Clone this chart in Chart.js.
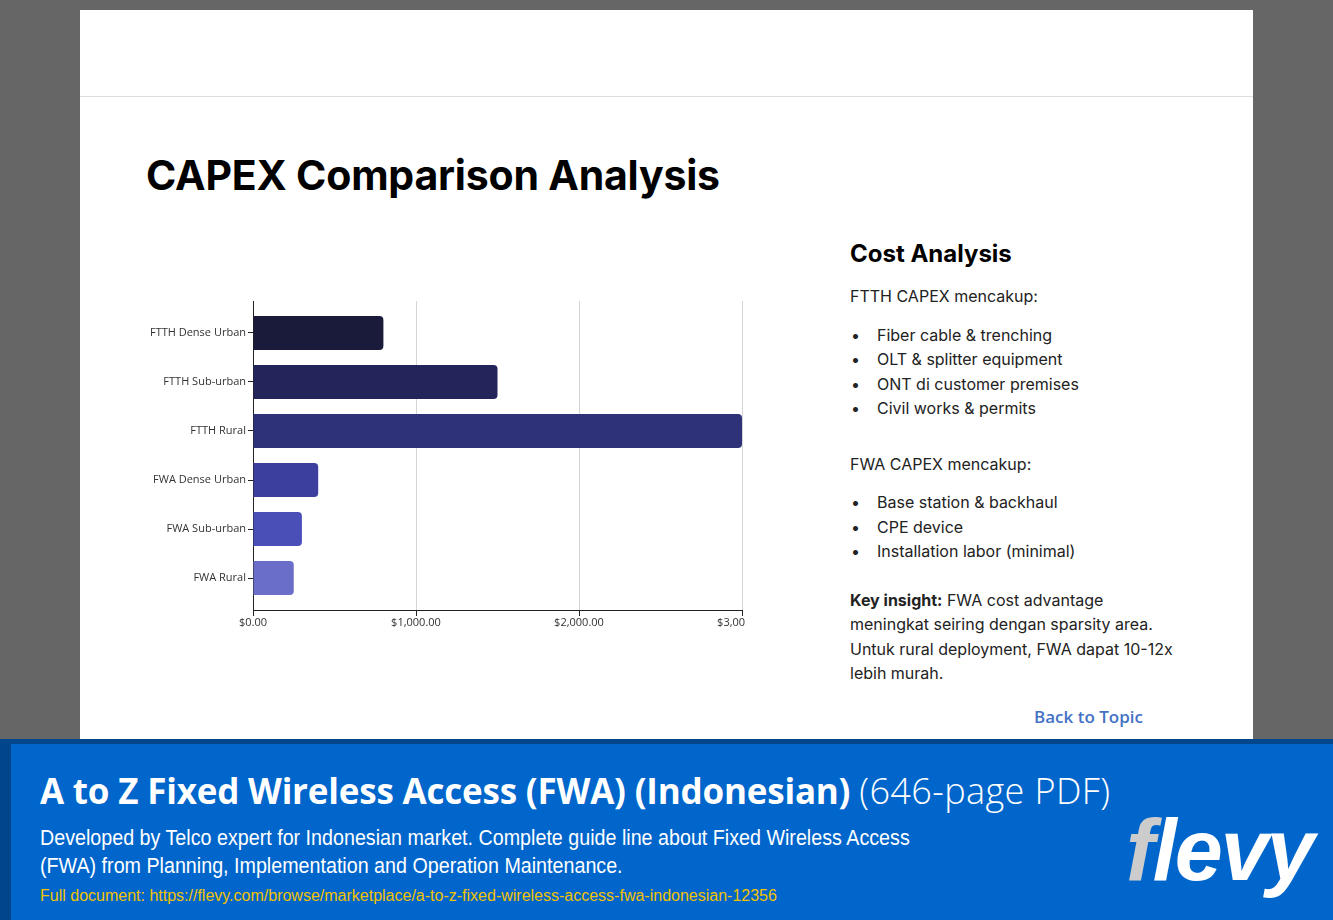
<!DOCTYPE html>
<html>
<head>
<meta charset="utf-8">
<script src="https://cdn.jsdelivr.net/npm/chart.js@4"></script>
<style>
  html, body { margin: 0; padding: 0; }
  body { width: 1333px; height: 920px; background: #666666; position: relative; overflow: hidden; font-family: Inter, sans-serif; }
  .card { position: absolute; left: 80px; top: 10px; width: 1173px; height: 740px; background: #fff; }
  .card .rule { position: absolute; left: 0; right: 0; top: 86px; border-top: 1px solid #dedede; }
  h1 { position: absolute; left: 146px; top: 150px; margin: 0; font: 700 41px Inter, sans-serif; color: #000; letter-spacing: -0.2px; }
  .chart-wrap { position: absolute; left: 140px; top: 291px; width: 605px; height: 340px; }
  .side { position: absolute; left: 850px; top: 238px; width: 335px; color: #222; font-size: 16px; line-height: 24.5px; }
  .side h2 { margin: 0 0 14px; font: 700 24px Inter, sans-serif; color: #000; line-height: 32px; }
  .side p { margin: 0; }
  .side ul { margin: 14px 0 31px; padding: 0; list-style: none; }
  .side ul.last { margin-bottom: 24px; }
  .side ul li { position: relative; padding-left: 27px; }
  .side ul li::before { content: "\2022"; position: absolute; left: 1px; top: 0; }
  .side .back { position: absolute; left: 184px; top: 467px; color: #4472c4; font: 600 17px "Open Sans", sans-serif; white-space: nowrap; }
  .foot { position: absolute; left: 0; top: 739px; width: 1333px; height: 181px; background: #00468c; }
  .foot .inner { position: absolute; left: 11px; top: 5px; right: 0; bottom: 0; background: #0066cc; overflow: hidden; }
  .foot .t { position: absolute; left: 29px; top: 22px; color: #fff; font: 700 35px "Open Sans", sans-serif; white-space: nowrap; letter-spacing: -0.2px; }
  .foot .t span { font-weight: 300; font-size: 36px; letter-spacing: 0.4px; }
  .foot .d { position: absolute; left: 29px; top: 80px; color: #fff; font: 22px "Liberation Sans", Arial, sans-serif; line-height: 28px; white-space: nowrap; transform: scaleX(0.895); transform-origin: left top; }
  .foot .u { position: absolute; left: 29px; top: 143px; color: #f2c200; font: 16px "Liberation Sans", Arial, sans-serif; white-space: nowrap; }
  .foot .logo { position: absolute; left: 1115px; top: 55px; font: italic 700 88px "Liberation Sans", Arial, sans-serif; color: #fff; letter-spacing: -2px; transform: scaleX(0.98); transform-origin: left top; white-space: nowrap; }
  .foot .logo span { color: #cccccc; }
</style>
</head>
<body>
<div class="card">
  <div class="rule"></div>
</div>
<h1>CAPEX Comparison Analysis</h1>
<div class="chart-wrap"><canvas id="capexChart"></canvas></div>
<div class="side">
  <h2>Cost Analysis</h2>
  <p>FTTH CAPEX mencakup:</p>
  <ul>
    <li>Fiber cable &amp; trenching</li>
    <li>OLT &amp; splitter equipment</li>
    <li>ONT di customer premises</li>
    <li>Civil works &amp; permits</li>
  </ul>
  <p>FWA CAPEX mencakup:</p>
  <ul class="last">
    <li>Base station &amp; backhaul</li>
    <li>CPE device</li>
    <li>Installation labor (minimal)</li>
  </ul>
  <p><strong>Key insight:</strong> FWA cost advantage meningkat seiring dengan sparsity area. Untuk rural deployment, FWA dapat 10-12x lebih murah.</p>
  <div class="back">Back to Topic</div>
</div>
<div class="foot">
  <div class="inner">
    <div class="t">A to Z Fixed Wireless Access (FWA) (Indonesian) <span>(646-page PDF)</span></div>
    <div class="d">Developed by Telco expert for Indonesian market. Complete guide line about Fixed Wireless Access<br>(FWA) from Planning, Implementation and Operation Maintenance.</div>
    <div class="u">Full document: https://flevy.com/browse/marketplace/a-to-z-fixed-wireless-access-fwa-indonesian-12356</div>
    <div class="logo"><span>f</span>levy</div>
  </div>
</div>
<script>
const categories = ['FTTH Dense Urban', 'FTTH Sub-urban', 'FTTH Rural', 'FWA Dense Urban', 'FWA Sub-urban', 'FWA Rural'];
const capexValues = [800, 1500, 3000, 400, 300, 250];
const barColors = ['#1a1a3a', '#22245a', '#2e3379', '#3c3f9e', '#4a4fb8', '#6a6ec8'];
const xTicks = [0, 1000, 2000, 3000];

const money = (v) => '$' + v.toLocaleString('en-US', { minimumFractionDigits: 2, maximumFractionDigits: 2 });

new Chart(document.getElementById('capexChart'), {
  type: 'bar',
  data: {
    datasets: [{
      data: capexValues.map((v, i) => ({ x: v, y: i })),
      backgroundColor: barColors,
      borderRadius: 4,
      borderSkipped: 'start',
      barPercentage: 0.9,
      categoryPercentage: 0.77
    }]
  },
  options: {
    indexAxis: 'y',
    responsive: true,
    maintainAspectRatio: false,
    animation: false,
    layout: { padding: { top: 10, right: 3, left: 0, bottom: 0 } },
    plugins: { legend: { display: false }, tooltip: { enabled: false } },
    scales: {
      x: {
        type: 'linear',
        min: 0,
        max: 3000,
        afterBuildTicks: (s) => { s.ticks = xTicks.map((v) => ({ value: v })); },
        afterFit: (s) => { s.paddingRight = 0; s.paddingLeft = 0; s.height = 21; },
        ticks: { callback: (v) => money(v), color: '#333', font: { family: 'Open Sans', size: 11 }, padding: 0, maxRotation: 0 },
        grid: { color: '#d4d4d4', tickColor: '#222', tickLength: 6 },
        border: { color: '#222', width: 1 }
      },
      y: {
        type: 'linear',
        reverse: true,
        offset: false,
        bounds: 'data',
        min: -0.65,
        max: 5.65,
        afterBuildTicks: (s) => { s.ticks = categories.map((_, i) => ({ value: i })); },
        afterFit: (s) => { s.width = 113; },
        ticks: { callback: (v) => categories[v], color: '#333', font: { family: 'Open Sans', size: 11 }, padding: 2 },
        grid: { offset: false, drawOnChartArea: false, tickColor: '#222', tickLength: 5 },
        border: { color: '#222', width: 1 }
      }
    }
  }
});
</script>
</body>
</html>
